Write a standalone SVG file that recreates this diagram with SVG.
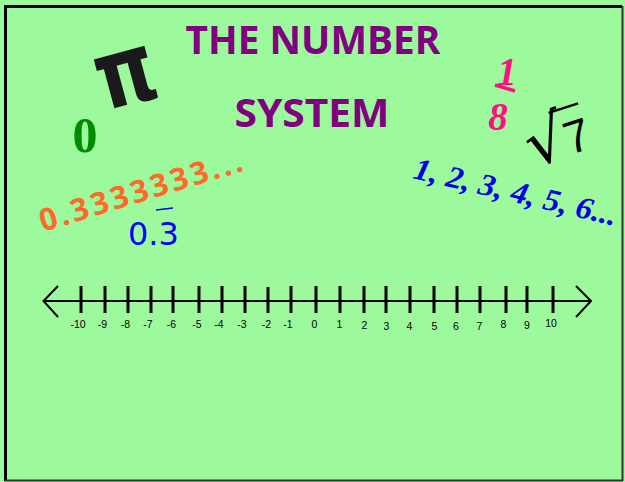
<svg xmlns="http://www.w3.org/2000/svg" width="625" height="482" viewBox="0 0 625 482">
<style>
.title{font-family:"Open Sans","Liberation Sans",sans-serif;font-weight:bold;fill:#800080;font-size:39px}
.tick{stroke:#000;stroke-width:3}
.lbl{font-family:"Liberation Sans",Arial,sans-serif;font-size:10.5px;fill:#000;text-anchor:middle}
.frac{font-family:"Liberation Serif",serif;font-weight:bold;font-style:italic;fill:#ff1080;font-size:39px}
</style>
<rect x="0" y="0" width="625" height="482" fill="#9cfa9c"/>
<g id="frame">
<line x1="4" y1="6.5" x2="622" y2="6.5" stroke="#000" stroke-width="3"/>
<line x1="5.5" y1="5" x2="5.5" y2="481" stroke="#000" stroke-width="3"/>
<line x1="622.5" y1="6" x2="622.5" y2="481" stroke="#333" stroke-width="2"/>
<line x1="5" y1="480.5" x2="623" y2="480.5" stroke="#333" stroke-width="2"/>
</g>
<g id="title">
<text class="title" x="313" y="54" text-anchor="middle" textLength="255" lengthAdjust="spacingAndGlyphs">THE NUMBER</text>
<text class="title" x="312" y="127" text-anchor="middle" textLength="155" lengthAdjust="spacingAndGlyphs">SYSTEM</text>
</g>
<g id="pi">
<text x="0" y="20" transform="translate(127 80) rotate(-15) scale(0.95 1.2)" font-family="DejaVu Sans,sans-serif" font-weight="bold" font-size="80" fill="#1a1a1a" text-anchor="middle">π</text>
</g>
<g id="zero">
<text x="85" y="152" font-family="Liberation Serif,serif" font-weight="bold" font-size="50" fill="#008c00" text-anchor="middle">0</text>
</g>
<g id="fraction">
<text class="frac" x="507" y="85" text-anchor="middle">1</text>
<line x1="495" y1="85" x2="515" y2="91" stroke="#ff1080" stroke-width="3.5"/>
<text class="frac" x="498" y="130" text-anchor="middle">8</text>
</g>
<g id="sqrt7" transform="rotate(-18 560 135)">
<text x="524" y="158" font-family="DejaVu Sans,sans-serif" font-size="64" fill="#000">√</text>
<line x1="556" y1="110.5" x2="587" y2="110.5" stroke="#000" stroke-width="2.5"/>
<text x="563" y="157" font-family="Liberation Sans,sans-serif" font-size="46" fill="#000">7</text>
</g>
<g id="decimal">
<text x="43" y="232" transform="rotate(-17 43 232)" font-family="Open Sans,sans-serif" font-weight="bold" font-size="31" fill="#ff6a2a" textLength="211" lengthAdjust="spacing">0.3333333...</text>
</g>
<g id="repeating">
<text x="128" y="245" font-family="DejaVu Sans,sans-serif" font-size="32" fill="#0000ff">0.3</text>
<line x1="156" y1="210" x2="173" y2="208" stroke="#0000ff" stroke-width="1.5"/>
</g>
<g id="naturals">
<text x="412" y="178" transform="rotate(13.3 412 178)" font-family="Liberation Serif,serif" font-weight="bold" font-style="italic" font-size="31" fill="#0000e6" textLength="208" lengthAdjust="spacingAndGlyphs">1, 2, 3, 4, 5, 6...</text>
</g>
<g id="numberline">
<line x1="43" y1="301" x2="591" y2="301" stroke="#000" stroke-width="2"/>
<polyline points="58,286 43.5,301 58,317" fill="none" stroke="#000" stroke-width="2"/>
<polyline points="576,286 591,301 576,317" fill="none" stroke="#000" stroke-width="2"/>
<g class="tick">
<line x1="81" y1="286" x2="81" y2="313"/>
<line x1="105" y1="286" x2="105" y2="313"/>
<line x1="128" y1="286" x2="128" y2="313"/>
<line x1="151" y1="286" x2="151" y2="313"/>
<line x1="173" y1="286" x2="173" y2="313"/>
<line x1="199" y1="286" x2="199" y2="313"/>
<line x1="222" y1="286" x2="222" y2="313"/>
<line x1="245" y1="286" x2="245" y2="313"/>
<line x1="268" y1="287" x2="268" y2="313"/>
<line x1="291" y1="286" x2="291" y2="313"/>
<line x1="316" y1="286" x2="316" y2="313"/>
<line x1="340" y1="286" x2="340" y2="313"/>
<line x1="364" y1="286" x2="364" y2="313"/>
<line x1="386" y1="286" x2="386" y2="313"/>
<line x1="410" y1="286" x2="410" y2="313"/>
<line x1="434" y1="286" x2="434" y2="313"/>
<line x1="457" y1="286" x2="457" y2="313"/>
<line x1="480" y1="286" x2="480" y2="313"/>
<line x1="506" y1="286" x2="506" y2="313"/>
<line x1="527" y1="286" x2="527" y2="313"/>
<line x1="553" y1="286" x2="553" y2="313"/>
</g>
<text class="lbl" x="78" y="328">-10</text>
<text class="lbl" x="102.5" y="328">-9</text>
<text class="lbl" x="125.5" y="328">-8</text>
<text class="lbl" x="148" y="328">-7</text>
<text class="lbl" x="171.5" y="328">-6</text>
<text class="lbl" x="197" y="328">-5</text>
<text class="lbl" x="219" y="328">-4</text>
<text class="lbl" x="242" y="328">-3</text>
<text class="lbl" x="266.5" y="328">-2</text>
<text class="lbl" x="288" y="328">-1</text>
<text class="lbl" x="314.5" y="328">0</text>
<text class="lbl" x="339.5" y="328">1</text>
<text class="lbl" x="364.5" y="329">2</text>
<text class="lbl" x="386.5" y="330">3</text>
<text class="lbl" x="409.5" y="330">4</text>
<text class="lbl" x="434.5" y="330">5</text>
<text class="lbl" x="456" y="330">6</text>
<text class="lbl" x="479.5" y="330">7</text>
<text class="lbl" x="503.5" y="328">8</text>
<text class="lbl" x="527" y="329">9</text>
<text class="lbl" x="551" y="326.5">10</text>
</g>
</svg>
